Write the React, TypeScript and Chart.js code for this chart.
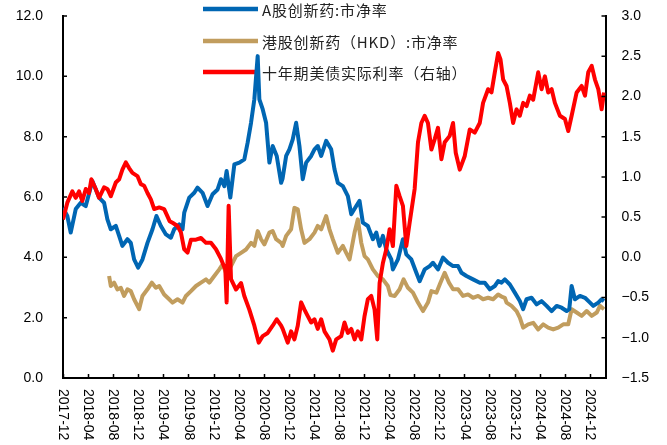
import React, { useEffect, useRef } from 'react';
import { Chart, registerables } from 'chart.js';

Chart.register(...registerables);

// X axis: months since 2017-12 ; tick every 4 months
const xTickLabels = [
  '2017-12', '2018-04', '2018-08', '2018-12', '2019-04', '2019-08', '2019-12',
  '2020-04', '2020-08', '2020-12', '2021-04', '2021-08', '2021-12', '2022-04',
  '2022-08', '2022-12', '2023-04', '2023-08', '2023-12', '2024-04', '2024-08', '2024-12',
];
const TICK_STEP_MONTHS = 4;
const X_MAX_MONTHS = 86.5;

const legendLabels = [
  'A股创新药:市净率',
  '港股创新药（HKD）:市净率',
  '十年期美债实际利率（右轴）',
];

// A股创新药: 市净率 (left axis)
const aMonths = [
  0.0, 0.69, 1.23, 2.03, 2.83, 3.63, 4.68, 5.75, 6.55, 7.08, 7.62, 8.42, 8.95, 9.47, 10.27, 10.81,
  11.34, 11.98, 12.67, 13.47, 14.27, 14.9, 15.61, 16.41, 17.2, 17.73, 18.53, 19.06, 19.33, 20.13,
  20.93, 21.45, 22.25, 23.05, 23.85, 24.65, 25.19, 25.72, 26.09, 26.68, 27.32, 28.12, 28.91, 29.44,
  29.98, 30.51, 31.04, 31.31, 31.84, 32.38, 32.91, 33.43, 34.08, 34.78, 35.0, 35.58, 36.1, 36.63,
  37.17, 37.7, 38.23, 38.77, 39.57, 40.1, 40.62, 41.17, 41.96, 42.76, 43.29, 43.82, 44.62, 45.42,
  45.96, 46.76, 47.28, 47.81, 48.61, 49.41, 49.95, 50.48, 51.01, 51.55, 52.35, 52.6, 53.4, 54.2,
  54.74, 55.54, 56.34, 56.87, 57.67, 58.47, 58.99, 59.79, 60.59, 61.39, 62.19, 62.99, 63.53, 64.33,
  65.38, 66.45, 67.25, 68.05, 68.85, 69.38, 69.92, 70.45, 71.25, 72.04, 72.84, 73.37, 73.91, 74.71,
  75.51, 76.31, 77.11, 77.91, 78.71, 79.5, 80.3, 80.72, 81.1, 81.63, 82.43, 83.23, 84.03, 84.55,
  85.35, 85.89, 86.26,
];
const aPB = [
  5.64, 5.37, 4.82, 5.6, 5.81, 5.7, 6.53, 5.98, 5.81, 5.26, 4.93, 5.04, 4.71, 4.38, 4.6, 4.48,
  3.93, 3.66, 3.93, 4.48, 4.93, 5.37, 5.04, 4.76, 4.65, 4.93, 5.09, 4.93, 5.48, 5.98,
  6.14, 6.31, 6.14, 5.7, 6.09, 6.25, 6.59, 6.36, 6.86, 5.98, 7.08, 7.14, 7.25, 7.8,
  8.46, 9.24, 10.67, 9.24, 8.91, 8.46, 7.14, 7.69, 7.36, 6.47, 6.6, 7.36, 7.58, 7.91,
  8.46, 7.69, 6.59, 7.14, 7.36, 7.58, 7.69, 7.36, 7.86, 7.58, 6.92, 6.47, 6.36, 6.03,
  5.43, 5.7, 5.87, 5.15, 5.04, 4.6, 4.82, 4.38, 4.71, 4.26, 3.93, 3.6, 3.93, 4.6,
  4.1, 3.93, 3.49, 3.21, 3.6, 3.71, 3.82, 3.6, 3.99, 3.82, 3.71, 3.71, 3.49, 3.38,
  3.27, 3.16, 3.16, 2.94, 3.05, 3.21, 3.16, 3.27, 3.1, 2.83, 2.55, 2.28, 2.61, 2.66,
  2.44, 2.55, 2.39, 2.22, 2.39, 2.33, 2.22, 2.28, 3.05, 2.61, 2.72, 2.66, 2.5, 2.39,
  2.5, 2.61, 2.55,
];

// 港股创新药 (HKD): 市净率 (left axis)
const hkMonths = [
  7.35, 7.62, 8.15, 8.67, 9.22, 9.74, 10.27, 10.81, 11.34, 12.14, 12.67, 13.47, 14.17, 14.81, 15.34,
  16.13, 16.93, 17.46, 18.26, 19.06, 19.6, 20.4, 21.2, 22.0, 22.8, 23.32, 24.12, 24.92, 25.45, 25.99,
  26.79, 27.59, 28.39, 29.18, 29.98, 30.51, 31.04, 31.58, 32.11, 32.91, 33.43, 33.98, 34.78, 35.03,
  35.58, 36.37, 36.9, 37.43, 37.97, 38.5, 39.3, 40.1, 40.62, 41.17, 41.96, 42.49, 43.02, 43.82,
  44.62, 45.16, 45.69, 46.49, 47.01, 47.56, 48.08, 48.61, 49.41, 50.21, 51.01, 51.8, 52.2, 52.88,
  53.67, 54.31, 55.0, 55.8, 56.6, 57.4, 58.19, 58.74, 59.54, 60.18, 60.86, 61.55, 62.19, 62.99,
  63.79, 64.58, 65.38, 66.18, 66.98, 67.78, 68.58, 69.38, 69.92, 70.45, 70.72, 71.52, 72.32, 72.84,
  73.37, 74.17, 74.97, 75.77, 76.57, 77.36, 78.16, 78.96, 79.76, 80.56, 81.1, 81.9, 82.7, 83.5,
  84.3, 85.1, 85.62, 86.26,
];
const hkPB = [
  3.38, 3.05, 3.16, 2.94, 2.99, 2.72, 2.94, 2.88, 2.61, 2.28, 2.72, 2.94, 3.16, 2.99, 3.05,
  2.77, 2.61, 2.5, 2.61, 2.5, 2.72, 2.88, 3.05, 3.16, 3.27, 3.16, 3.38, 3.6, 3.77, 3.49,
  3.71, 4.04, 4.15, 4.26, 4.48, 4.38, 4.87, 4.6, 4.43, 4.82, 4.87, 4.6, 4.48, 4.38,
  4.71, 4.93, 5.64, 5.59, 4.93, 4.48, 4.6, 4.82, 5.04, 4.93, 5.37, 4.93, 4.6, 4.15,
  4.38, 4.15, 3.93, 4.82, 5.26, 4.48, 4.04, 3.93, 3.6, 3.38, 3.27, 3.05, 2.75, 2.72,
  2.94, 3.27, 2.99, 2.83, 2.5, 2.22, 2.5, 2.88, 2.83, 3.16, 3.49, 3.16, 2.94, 2.94,
  2.72, 2.77, 2.66, 2.72, 2.61, 2.66, 2.61, 2.77, 2.7, 2.66, 2.5, 2.39, 2.22, 2.0,
  1.67, 1.78, 1.83, 1.61, 1.78, 1.67, 1.61, 1.67, 1.78, 1.78, 2.28, 2.17, 2.06, 2.22,
  2.06, 2.17, 2.39, 2.28,
];

// 十年期美债实际利率 (right axis, %)
const rateMonths = [
  0.0, 0.69, 1.49, 2.03, 2.56, 3.08, 3.63, 4.15, 4.52, 5.22, 5.75, 6.55, 7.08, 7.62, 8.42, 8.95,
  9.47, 10.02, 10.54, 11.07, 11.87, 12.41, 12.94, 13.47, 14.01, 14.54, 15.34, 16.13, 16.66, 17.0,
  17.46, 18.26, 18.8, 19.33, 19.86, 20.4, 21.2, 22.0, 22.8, 23.59, 24.39, 25.19, 25.88, 26.09,
  26.41, 26.79, 27.59, 28.39, 28.91, 29.71, 30.51, 31.2, 31.84, 32.64, 33.43, 34.08, 34.78, 35.03,
  35.83, 36.37, 36.9, 37.43, 37.97, 38.5, 39.03, 39.57, 40.1, 40.62, 41.17, 41.69, 42.49, 43.02,
  43.56, 44.36, 44.89, 45.42, 45.96, 46.49, 47.01, 47.56, 48.08, 48.61, 49.15, 49.68, 50.11, 50.48,
  51.01, 51.55, 52.08, 52.6, 53.15, 53.67, 54.2, 54.74, 55.27, 56.07, 56.6, 57.14, 57.67, 58.19,
  58.74, 59.27, 59.79, 60.34, 60.86, 61.66, 62.19, 62.62, 63.26, 64.06, 64.86, 65.65, 66.45, 66.98,
  67.78, 68.32, 68.85, 69.38, 69.76, 70.18, 70.72, 71.25, 71.77, 72.32, 72.84, 73.37, 73.91, 74.44,
  74.97, 75.77, 76.31, 76.84, 77.36, 77.91, 78.43, 79.23, 80.03, 80.56, 81.1, 81.9, 82.7, 83.23,
  83.75, 84.3, 84.82, 85.35, 85.89, 86.26,
];
const realRate = [
  0.47, 0.68, 0.82, 0.74, 0.82, 0.7, 0.85, 0.8, 0.97, 0.85, 0.74, 0.87, 0.85, 0.76, 0.93, 0.97,
  1.09, 1.18, 1.11, 1.05, 1.01, 0.91, 0.89, 0.8, 0.72, 0.6, 0.62, 0.6, 0.51, 0.45,
  0.43, 0.39, 0.31, 0.1, 0.06, 0.22, 0.22, 0.24, 0.18, 0.18, 0.1, -0.02, -0.15, -0.56,
  0.64, -0.27, -0.4, -0.32, -0.48, -0.65, -0.85, -1.06, -0.98, -0.94, -0.85, -0.77, -0.85, -0.89,
  -1.06, -0.92, -1.02, -0.85, -0.56, -0.65, -0.73, -0.81, -0.77, -0.89, -0.77, -0.92, -1.02, -1.16,
  -1.02, -0.98, -0.81, -0.94, -0.89, -1.02, -0.92, -1.02, -0.73, -0.52, -0.48, -0.65, -1.02, -0.32,
  -0.07, 0.1, 0.35, 0.14, 0.89, 0.76, 0.64, 0.14, 0.43, 0.85, 1.43, 1.67, 1.76, 1.67,
  1.34, 1.47, 1.61, 1.22, 1.43, 1.51, 1.67, 1.3, 1.09, 1.26, 1.59, 1.55, 1.67, 1.92,
  2.09, 2.05, 2.3, 2.54, 2.46, 2.21, 2.13, 1.92, 1.67, 1.84, 1.76, 1.92, 1.88, 2.01,
  1.96, 2.3, 2.09, 2.25, 2.05, 2.09, 1.92, 1.76, 1.72, 1.57, 1.76, 2.05, 2.13, 2.01,
  2.3, 2.38, 2.21, 2.09, 1.84, 2.05,
];

const seriesColors = ['#0066B3', '#C19D5E', '#FF0000'];

const toPoints = (xs: number[], ys: number[]) => xs.map((x, i) => ({ x, y: ys[i] }));
const fmt = (v: number) => v.toFixed(1).replace('-', '−');

const decorPlugin = {
  id: 'decor',
  beforeDatasetsDraw(chart: any) {
    const ctx = chart.ctx;
    const rows = [9, 41, 72];
    ctx.save();
    legendLabels.forEach((label, i) => {
      ctx.strokeStyle = seriesColors[i];
      ctx.lineWidth = 4.5;
      ctx.lineCap = 'butt';
      ctx.beginPath();
      ctx.moveTo(203, rows[i]);
      ctx.lineTo(258, rows[i]);
      ctx.stroke();
      ctx.fillStyle = '#222';
      ctx.font = '15px "Noto Sans CJK SC"';
      try { (ctx as any).letterSpacing = '0.8px'; } catch (e) { /* ignore */ }
      ctx.textAlign = 'left';
      ctx.textBaseline = 'middle';
      ctx.fillText(label, 262, rows[i] + 1);
      try { (ctx as any).letterSpacing = '0px'; } catch (e) { /* ignore */ }
    });
    ctx.restore();
  },
  afterDraw(chart: any) {
    const ctx = chart.ctx;
    const area = chart.chartArea;
    const xs = chart.scales.x;
    const yl = chart.scales.y;
    const yr = chart.scales.y1;
    ctx.save();
    ctx.strokeStyle = '#000';
    ctx.lineWidth = 1.5;
    ctx.beginPath();
    xTickLabels.forEach((_, i) => {
      const px = Math.round(xs.getPixelForValue(i * TICK_STEP_MONTHS)) + 0.5;
      ctx.moveTo(px, area.bottom);
      ctx.lineTo(px, area.bottom - 4);
    });
    yl.ticks.forEach((t: any) => {
      const py = yl.getPixelForValue(t.value);
      ctx.moveTo(area.left, py);
      ctx.lineTo(area.left + 4, py);
    });
    yr.ticks.forEach((t: any) => {
      const py = yr.getPixelForValue(t.value);
      ctx.moveTo(area.right, py);
      ctx.lineTo(area.right - 4, py);
    });
    ctx.stroke();
    ctx.fillStyle = '#000';
    ctx.font = '14px "Liberation Sans"';
    ctx.textAlign = 'left';
    ctx.textBaseline = 'middle';
    xTickLabels.forEach((label, i) => {
      const px = xs.getPixelForValue(i * TICK_STEP_MONTHS);
      ctx.save();
      ctx.translate(px, area.bottom + 11);
      ctx.rotate(Math.PI / 2);
      ctx.fillText(label, 0, 0);
      ctx.restore();
    });
    ctx.restore();
  },
};

export default function App() {
  const canvasRef = useRef<HTMLCanvasElement | null>(null);

  useEffect(() => {
    if (!canvasRef.current) return;
    Chart.defaults.font.family = '"Liberation Sans", Arial, sans-serif';
    const tickFont = { size: 14, family: '"Liberation Sans", Arial, sans-serif' };
    const chart = new Chart(canvasRef.current, {
      type: 'line',
      data: {
        datasets: [
          {
            label: legendLabels[2],
            data: toPoints(rateMonths, realRate),
            borderColor: seriesColors[2],
            borderWidth: 4,
            pointRadius: 0,
            tension: 0,
            borderJoinStyle: 'round',
            yAxisID: 'y1',
            order: 0,
          },
          {
            label: legendLabels[0],
            data: toPoints(aMonths, aPB),
            borderColor: seriesColors[0],
            borderWidth: 4,
            pointRadius: 0,
            tension: 0,
            borderJoinStyle: 'round',
            yAxisID: 'y',
            order: 1,
          },
          {
            label: legendLabels[1],
            data: toPoints(hkMonths, hkPB),
            borderColor: seriesColors[1],
            borderWidth: 4,
            pointRadius: 0,
            tension: 0,
            borderJoinStyle: 'round',
            yAxisID: 'y',
            order: 2,
          },
        ],
      },
      options: {
        responsive: false,
        animation: false,
        layout: { padding: { top: 16, left: 0, right: 0, bottom: 0 } },
        plugins: { legend: { display: false }, tooltip: { enabled: false } },
        scales: {
          x: {
            type: 'linear',
            min: 0,
            max: X_MAX_MONTHS,
            ticks: { display: false },
            grid: { display: false, drawTicks: false },
            border: { display: true, color: '#000', width: 2 },
            afterFit: (s: any) => { s.height = 67; s.paddingLeft = 0; s.paddingRight = 0; },
          },
          y: {
            position: 'left',
            min: 0,
            max: 12,
            ticks: { stepSize: 2, callback: (v: any) => fmt(Number(v)), font: tickFont, color: '#000', padding: 20 },
            grid: { display: false, drawTicks: false },
            border: { display: true, color: '#000', width: 2 },
            afterFit: (s: any) => { s.width = 63; s.paddingTop = 0; s.paddingBottom = 0; },
          },
          y1: {
            position: 'right',
            min: -1.5,
            max: 3,
            ticks: { stepSize: 0.5, callback: (v: any) => fmt(Number(v)), font: tickFont, color: '#000', padding: 16 },
            grid: { display: false, drawTicks: false },
            border: { display: true, color: '#000', width: 2 },
            afterFit: (s: any) => { s.width = 61.5; s.paddingTop = 0; s.paddingBottom = 0; },
          },
        },
      },
      plugins: [decorPlugin],
    } as any);
    return () => chart.destroy();
  }, []);

  return (
    <div style={{ position: 'fixed', left: 0, top: 0, width: 667, height: 445, background: '#fff' }}>
      <canvas ref={canvasRef} width={667} height={445} style={{ width: 667, height: 445 }} />
    </div>
  );
}
